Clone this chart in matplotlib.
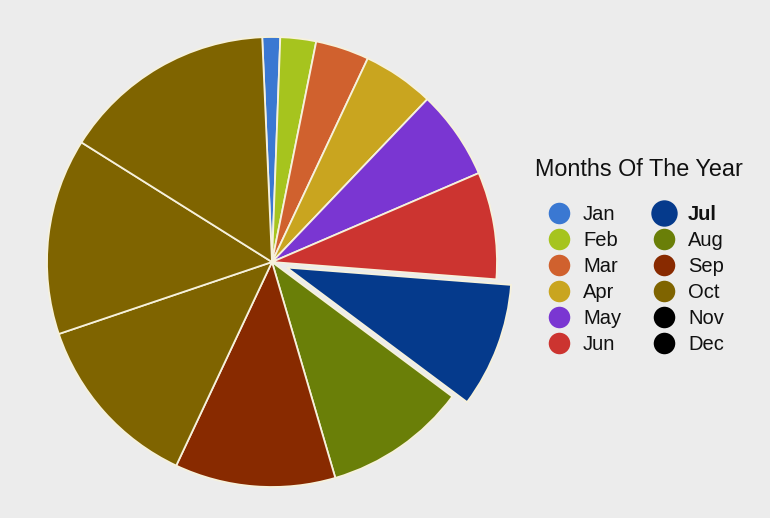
import matplotlib
matplotlib.use("Agg")
import matplotlib.pyplot as plt

months = ["Jan", "Feb", "Mar", "Apr", "May", "Jun",
          "Jul", "Aug", "Sep", "Oct", "Nov", "Dec"]
values = [1, 2, 3, 4, 5, 6, 7, 8, 9, 10, 11, 12]
slice_colors = ["#3a78d2", "#a6c41e", "#d0612e", "#c9a51f", "#7a36d2", "#cc3430",
                "#053a8c", "#6a7f08", "#882a00", "#7f6400", "#7f6400", "#7f6400"]
legend_colors = ["#3a78d2", "#a6c41e", "#d0612e", "#c9a51f", "#7a36d2", "#cc3430",
                 "#053a8c", "#6a7f08", "#882a00", "#7f6400", "#000000", "#000000"]
highlight = "Jul"
legend_title = "Months Of The Year"

plt.rcParams['font.family'] = ['Liberation Sans', 'DejaVu Sans']

W, H = 770, 518
fig = plt.figure(figsize=(W / 100, H / 100), dpi=100)
fig.patch.set_facecolor("#ececec")

cx, cy, r = 272, 262, 225
ax = fig.add_axes([(cx - r) / W, (H - cy - r) / H, 2 * r / W, 2 * r / H])
explode = [0.07 if m == highlight else 0 for m in months]
ax.pie(values, colors=slice_colors, startangle=92.5, counterclock=False,
       explode=explode,
       wedgeprops=dict(edgecolor="#f6f1dc", linewidth=1.3))
ax.set_xlim(-1, 1)
ax.set_ylim(-1, 1)
ax.set_aspect("equal")
ax.axis("off")

# legend overlay
lax = fig.add_axes([0, 0, 1, 1])
lax.set_xlim(0, W)
lax.set_ylim(H, 0)
lax.axis("off")
lax.patch.set_alpha(0)

lax.text(535, 170, legend_title, fontsize=16.8, va="center", ha="left", color="#111111")
col_x = [(559, 583), (664, 688)]
row_y0, row_dy = 213, 26
for i, (m, c) in enumerate(zip(months, legend_colors)):
    col, row = divmod(i, 6)
    mx, tx = col_x[col]
    y = row_y0 + row * row_dy
    big = (m == highlight)
    lax.plot([mx], [y], marker="o", markersize=19 if big else 15.5,
             color=c, markeredgewidth=0, linestyle="none")
    lax.text(tx, y + 1, m, fontsize=14.5, va="center", ha="left", color="#111111",
             fontweight="bold" if big else "normal")

fig.savefig("out.png", dpi=100, facecolor=fig.get_facecolor())
